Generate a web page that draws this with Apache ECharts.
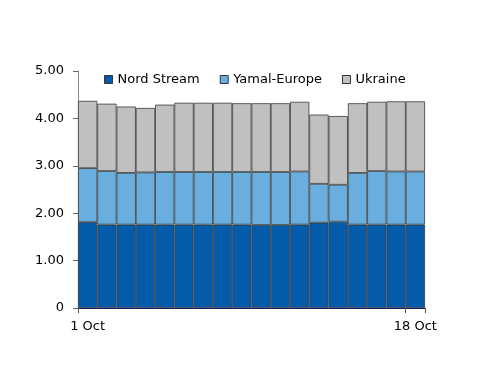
<!DOCTYPE html>
<html><head><meta charset="utf-8">
<script src="https://cdn.jsdelivr.net/npm/echarts@6/dist/echarts.min.js"></script>
<style>html,body{margin:0;padding:0;background:#fff}#c{width:500px;height:386px}</style>
</head><body><div id="c"></div>
<script>
const categories = ["1 Oct","2 Oct","3 Oct","4 Oct","5 Oct","6 Oct","7 Oct","8 Oct","9 Oct","10 Oct","11 Oct","12 Oct","13 Oct","14 Oct","15 Oct","16 Oct","17 Oct","18 Oct"];
const nordStream = [1.81,1.76,1.76,1.76,1.76,1.76,1.76,1.76,1.76,1.75,1.75,1.76,1.80,1.82,1.76,1.76,1.76,1.76];
const yamalEurope = [1.14,1.13,1.09,1.10,1.11,1.11,1.11,1.11,1.11,1.12,1.12,1.12,0.82,0.78,1.09,1.13,1.12,1.12];
const ukraine = [1.42,1.42,1.40,1.36,1.42,1.46,1.46,1.46,1.45,1.45,1.45,1.47,1.46,1.45,1.47,1.46,1.48,1.48];
const yTicks = [0,1,2,3,4,5];

const font = 'DejaVu Sans';
const chart = echarts.init(document.getElementById('c'), null, {renderer:'canvas'});
const mk = (name, data, color) => ({
  name, type:'bar', stack:'total', data, barCategoryGap:'0%',
  itemStyle:{color, borderColor:'#3a3a3a', borderWidth:0.8},
  emphasis:{disabled:true}
});
chart.setOption({
  animation:false,
  backgroundColor:'#fff',
  legend:{
    left:99, top:68, itemWidth:8, itemHeight:8, itemGap:20,
    icon:'rect',
    textStyle:{fontFamily:font, fontSize:13, color:'#000'},
    itemStyle:{borderColor:'#333', borderWidth:1},
    data:['Nord Stream','Yamal-Europe','Ukraine']
  },
  grid:{left:78, right:75, top:71, bottom:78, containLabel:false},
  xAxis:{
    type:'category', data:categories, boundaryGap:true,
    axisLine:{lineStyle:{color:'#1a1a60'}},
    axisTick:{show:true, length:5, interval:(i)=> i===0 || i===categories.length-1, lineStyle:{color:'#555'}},
    axisLabel:{interval:(i)=> i===0 || i===categories.length-1, fontFamily:font, fontSize:13, color:'#000', margin:12}
  },
  yAxis:{
    type:'value', min:yTicks[0], max:yTicks[yTicks.length-1], interval:1,
    splitLine:{show:false},
    axisLine:{show:true, lineStyle:{color:'#888'}},
    axisTick:{show:true, length:5, lineStyle:{color:'#666'}},
    axisLabel:{fontFamily:font, fontSize:13, color:'#000', margin:14,
      formatter:(v)=> v===0 ? '0' : v.toFixed(2)}
  },
  series:[
    mk('Nord Stream', nordStream, '#045BAA'),
    mk('Yamal-Europe', yamalEurope, '#6AAEE0'),
    mk('Ukraine', ukraine, '#C0C0C0')
  ]
});
</script></body></html>
